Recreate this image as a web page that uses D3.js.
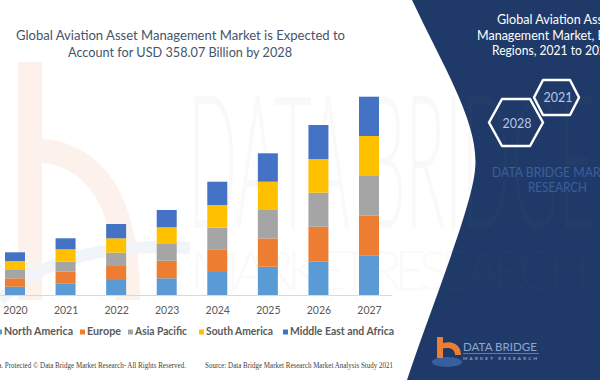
<!DOCTYPE html>
<html><head><meta charset="utf-8">
<script src="https://cdn.jsdelivr.net/npm/d3@7"></script>
<style>html,body{margin:0;padding:0;background:#fff;overflow:hidden}svg{display:block}</style>
</head><body>
<script>
// ---- data ----
const years = ["2020","2021","2022","2023","2024","2025","2026","2027"];
const regions = ["North America","Europe","Asia Pacific","South America","Middle East and Africa"];
const northAmerica = [8.3, 11.7, 15.0, 16.7, 23.0, 28.3, 33.3, 39.7];
const europe       = [8.4, 11.6, 14.0, 17.6, 22.7, 28.3, 35.0, 39.6];
const asiaPacific  = [9.0, 10.0, 13.3, 16.7, 21.6, 28.4, 34.0, 39.7];
const southAmerica = [8.3, 12.4, 14.4, 16.7, 22.7, 28.3, 33.7, 40.0];
const middleEastAfrica = [8.7, 11.0, 14.3, 17.3, 23.3, 28.4, 34.0, 39.3];
const colors = ["#5b9bd5","#ed7d31","#a5a5a5","#ffc000","#4472c4"];
const legendWidths = [69, 34, 52, 67, 104];

const W = 600, H = 380;
const svg = d3.select("body").append("svg").attr("width", W).attr("height", H);
const F = "Lato, 'Open Sans', sans-serif";

// faint orange "b" watermark left
const wm = svg.append("g").attr("fill","none").attr("stroke","#fdf2eb").attr("stroke-width",24);
wm.append("path").attr("d","M30,62 L30,300");
wm.append("path").attr("d","M30,150 Q128,150 128,300");
svg.append("path").attr("d","M0,300 Q60,240 190,248").attr("fill","none").attr("stroke","#f1f4f8").attr("stroke-width",12);

// navy right panel
svg.append("path")
  .attr("d","M412,0 C445,70 480,125 475,170 C471,210 432,305 407,380 L600,380 L600,0 Z")
  .attr("fill","#1f3a68");

// faint big watermark text
svg.append("text").attr("x",188).attr("y",228).attr("font-family",F).attr("font-weight",300)
  .attr("font-size",185).attr("textLength",408).attr("lengthAdjust","spacingAndGlyphs")
  .attr("fill","#7f7f7f").attr("opacity",0.04).text("DATA BRIDGE");
svg.append("text").attr("x",190).attr("y",290).attr("font-family",F).attr("font-weight",300)
  .attr("font-size",55).attr("textLength",400).attr("lengthAdjust","spacing")
  .attr("fill","#7f7f7f").attr("opacity",0.03).text("MARKET RESEARCH");

// title
const title = svg.append("g").attr("font-family",F).attr("font-size",14).attr("fill","#44546a");
title.append("text").attr("x",16).attr("y",39.5).attr("textLength",329).attr("lengthAdjust","spacingAndGlyphs")
  .text("Global Aviation Asset Management Market is Expected to");
title.append("text").attr("x",68).attr("y",56.5).attr("textLength",224).attr("lengthAdjust","spacingAndGlyphs")
  .text("Account for USD 358.07 Billion by 2028");

// scales
const x = d3.scalePoint().domain(years).range([15, 369]);
const y = d3.scaleLinear().domain([0, 198.3]).range([295, 96.7]);
const barW = 20;

const table = years.map((yr,i)=>({year:yr,
  "North America":northAmerica[i],"Europe":europe[i],"Asia Pacific":asiaPacific[i],
  "South America":southAmerica[i],"Middle East and Africa":middleEastAfrica[i]}));
const stacked = d3.stack().keys(regions)(table);

// baseline
svg.append("line").attr("x1",0).attr("x2",392).attr("y1",y(0)+0.5).attr("y2",y(0)+0.5)
  .attr("stroke","#d9d9d9").attr("stroke-width",1);

svg.append("g").selectAll("g").data(stacked).join("g")
  .attr("fill",(d,i)=>colors[i])
  .selectAll("rect").data(d=>d).join("rect")
  .attr("x",d=>x(d.data.year)-barW/2).attr("width",barW)
  .attr("y",d=>y(d[1])).attr("height",d=>y(d[0])-y(d[1]));

// x axis labels
const xAxis = svg.append("g").attr("transform","translate(0,295)")
  .call(d3.axisBottom(x).tickSize(0).tickPadding(0));
xAxis.select(".domain").remove();
xAxis.selectAll("text").attr("y",18.5).attr("dy",0).attr("font-family",F).attr("font-size",10.5)
  .attr("fill","#595959");

// legend
const legX = [-3, 80, 128, 199, 283];
const lg = svg.append("g").attr("font-family",F).attr("font-size",11).attr("font-weight",700).attr("fill","#595959");
regions.forEach((r,i)=>{
  lg.append("rect").attr("x",legX[i]).attr("y",329.5).attr("width",5).attr("height",5).attr("fill",colors[i]);
  lg.append("text").attr("x",legX[i]+7).attr("y",335).attr("textLength",legendWidths[i])
    .attr("lengthAdjust","spacingAndGlyphs").text(r);
});

// footer
const ft = svg.append("g").attr("font-family","'Liberation Serif', serif").attr("font-size",7.2).attr("fill","#404040");
ft.append("text").attr("x",186).attr("y",368).attr("text-anchor","end").attr("textLength",198)
  .attr("lengthAdjust","spacingAndGlyphs").text("Data. Protected © Data Bridge Market Research- All Rights Reserved.");
ft.append("text").attr("x",205).attr("y",368).attr("textLength",188)
  .attr("lengthAdjust","spacingAndGlyphs").text("Source: Data Bridge Market Research Market Analysis Study 2021");

// right panel title
const rt = svg.append("g").attr("font-family",F).attr("font-size",12.5).attr("fill","#ffffff");
[["Global Aviation Asset",497,23.5,117],["Management Market, By",477,40,135],["Regions, 2021 to 2028",492,55,121]]
  .forEach(([t,xx,yy,w])=>rt.append("text").attr("x",xx).attr("y",yy).attr("textLength",w)
    .attr("lengthAdjust","spacingAndGlyphs").text(t));

// hexagons
function hex(cx,cy,hw,hh,ht){
  return `M${cx-hw},${cy} L${cx-ht},${cy-hh} L${cx+ht},${cy-hh} L${cx+hw},${cy} L${cx+ht},${cy+hh} L${cx-ht},${cy+hh} Z`;
}
svg.append("path").attr("d",hex(556.5,97.5,22.5,17.5,13.5)).attr("fill","none").attr("stroke","#fff").attr("stroke-width",2.5).attr("stroke-linejoin","round");
svg.append("path").attr("d",hex(516,122.5,27,23.5,14)).attr("fill","none").attr("stroke","#fff").attr("stroke-width",2.5).attr("stroke-linejoin","round");
const hx = svg.append("g").attr("font-family",F).attr("font-size",12.5).attr("fill","#b4c7e7").attr("text-anchor","middle");
hx.append("text").attr("x",517).attr("y",127.5).text("2028");
hx.append("text").attr("x",558).attr("y",102).text("2021");

// DATA BRIDGE MARKET RESEARCH muted text
const dm = svg.append("g").attr("font-family",F).attr("font-size",12.5).attr("fill","#3a5f9f");
dm.append("text").attr("x",492).attr("y",177).attr("textLength",131).attr("lengthAdjust","spacingAndGlyphs").text("DATA BRIDGE MARKET");
dm.append("text").attr("x",528).attr("y",192).attr("textLength",59).attr("lengthAdjust","spacingAndGlyphs").text("RESEARCH");

// logo
svg.append("ellipse").attr("cx",447).attr("cy",362).attr("rx",15).attr("ry",5).attr("fill","#3d68ad").attr("opacity",0.8);
svg.append("rect").attr("x",437).attr("y",337).attr("width",6).attr("height",21).attr("fill","#ed7d31");
svg.append("path").attr("d","M443,343 C453,340 461,345 461,355 L455,355 C455,349 450,347 443,348.5 Z").attr("fill","#ed7d31");
svg.append("text").attr("x",463).attr("y",351).attr("font-family",F).attr("font-size",11).attr("fill","#8ea5d1")
  .attr("textLength",74).attr("lengthAdjust","spacingAndGlyphs").text("DATA BRIDGE");
svg.append("line").attr("x1",463).attr("x2",539).attr("y1",353.5).attr("y2",353.5).attr("stroke","#8ea5d1").attr("stroke-width",0.6);
svg.append("text").attr("x",463).attr("y",359.5).attr("font-family",F).attr("font-size",4.5).attr("font-weight",700).attr("fill","#8ea5d1")
  .attr("textLength",74).attr("lengthAdjust","spacing").text("MARKET RESEARCH");
</script>
</body></html>
